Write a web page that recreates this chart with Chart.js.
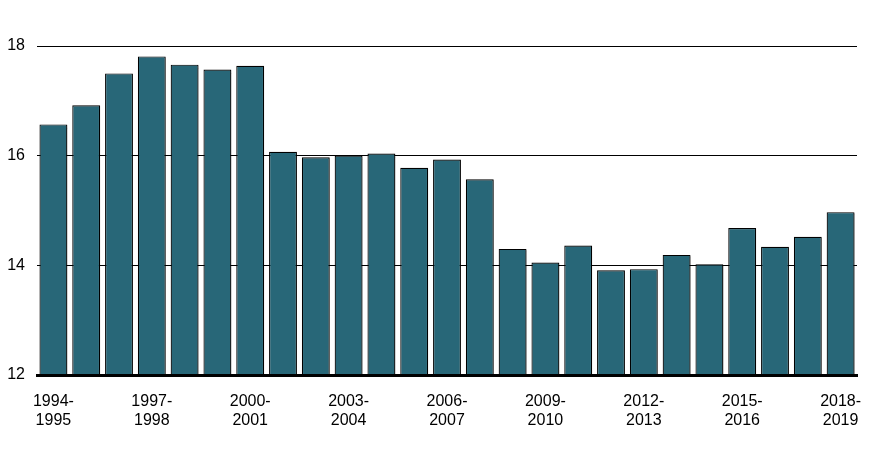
<!DOCTYPE html>
<html>
<head>
<meta charset="utf-8">
<script src="https://cdn.jsdelivr.net/npm/chart.js@4.4.0/dist/chart.umd.min.js"></script>
<style>
html,body{margin:0;padding:0;background:#fff;}
#wrap{width:871px;height:463px;position:relative;}
</style>
</head>
<body>
<div id="wrap"><canvas id="c"></canvas></div>
<script>
const categories = ["1994-1995","1995-1996","1996-1997","1997-1998","1998-1999","1999-2000","2000-2001","2001-2002","2002-2003","2003-2004","2004-2005","2005-2006","2006-2007","2007-2008","2008-2009","2009-2010","2010-2011","2011-2012","2012-2013","2013-2014","2014-2015","2015-2016","2016-2017","2017-2018","2018-2019"];
const values = [16.57,16.92,17.50,17.81,17.66,17.57,17.64,16.07,15.97,16.00,16.04,15.78,15.93,15.57,14.30,14.05,14.36,13.91,13.93,14.19,14.02,14.68,14.34,14.52,14.97];
const yTicks = [12,14,16,18];

const shadowPlugin = {
  id:'shadow',
  beforeDatasetsDraw(chart){
    const ctx = chart.ctx;
    ctx.save();
    ctx.shadowColor='rgba(0,0,0,0.25)';
    ctx.shadowOffsetX=1.5;
    ctx.shadowOffsetY=1;
    ctx.shadowBlur=1;
  },
  afterDatasetsDraw(chart){ chart.ctx.restore(); }
};

new Chart(document.getElementById('c'), {
  type:'bar',
  data:{
    labels:categories,
    datasets:[{
      data:values,
      backgroundColor:'#286778',
      borderColor:'#000',
      borderWidth:1.2,
      borderSkipped:'bottom',
      barPercentage:0.85,
      categoryPercentage:1.0
    }]
  },
  options:{
    responsive:true,
    maintainAspectRatio:false,
    animation:false,
    layout:{padding:{left:0,right:14,top:46,bottom:0}},
    plugins:{legend:{display:false},tooltip:{enabled:false}},
    scales:{
      x:{
        afterFit(s){ s.height = 88; },
        grid:{display:false},
        border:{display:true,color:'#000',width:3,z:1},
        ticks:{
          autoSkip:false,maxRotation:0,minRotation:0,padding:9,
          color:'#000',
          font:{family:'Liberation Sans, Arial, sans-serif',size:16,lineHeight:1.2},
          callback(v,i){
            if(i%3!==0) return '';
            const p = categories[i].split('-');
            return [p[0]+'-', p[1]];
          }
        }
      },
      y:{
        min:12,max:18,
        afterFit(s){ s.width = 37; },
        afterBuildTicks(s){ s.ticks = yTicks.map(v=>({value:v})); },
        grid:{color:'#000',lineWidth:1,drawTicks:false},
        border:{display:false},
        ticks:{
          padding:12,color:'#000',
          font:{family:'Liberation Sans, Arial, sans-serif',size:16}
        }
      }
    }
  },
  plugins:[shadowPlugin]
});
</script>
</body>
</html>
